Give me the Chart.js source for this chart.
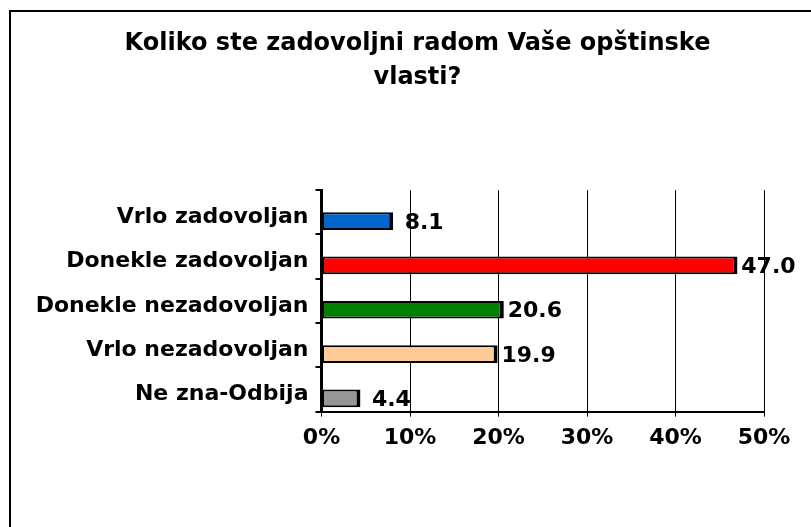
<!DOCTYPE html>
<html>
<head>
<meta charset="utf-8">
<script src="https://cdn.jsdelivr.net/npm/chart.js@4/dist/chart.umd.min.js"></script>
<style>
  html, body { margin: 0; padding: 0; background: #fff; overflow: hidden; }
  canvas { display: block; }
</style>
</head>
<body>
<canvas id="grafik" width="811" height="527"></canvas>
<script>
// podaci sa grafika
const kategorije = ['Vrlo zadovoljan', 'Donekle zadovoljan', 'Donekle nezadovoljan', 'Vrlo nezadovoljan', 'Ne zna-Odbija'];
const procenti = [8.1, 47.0, 20.6, 19.9, 4.4];
const boje = ['#0066CC', '#FF0000', '#008000', '#FFCC99', '#969696'];
const prazno = [null, null, null, null, null]; // prazan red, pomera trake nadole kao u 3D prikazu
const naslov = ['Koliko ste zadovoljni radom Vaše opštinske', 'vlasti?'];
const font = 'DejaVu Sans';

// okvir oko cele slike
const okvir = {
    id: 'okvir',
    beforeDraw(chart) {
        const c = chart.ctx;
        c.save();
        c.strokeStyle = '#000';
        c.lineWidth = 2;
        c.strokeRect(10, 11, 1000, 1000);
        c.restore();
    }
};

// vrednosti desno od traka
const vrednosti = {
    id: 'vrednosti',
    afterDatasetsDraw(chart) {
        const c = chart.ctx;
        const meta = chart.getDatasetMeta(1);
        c.save();
        c.font = 'bold 22px "' + font + '"';
        c.fillStyle = '#000';
        c.textAlign = 'center';
        c.textBaseline = 'middle';
        meta.data.forEach((bar, i) => {
            c.fillText(procenti[i].toFixed(1), bar.x + 31, bar.y + 2);
        });
        c.restore();
    }
};

new Chart(document.getElementById('grafik').getContext('2d'), {
    type: 'bar',
    data: {
        labels: kategorije,
        datasets: [{
            data: prazno
        }, {
            data: procenti,
            backgroundColor: boje,
            borderColor: '#000',
            borderWidth: { top: 2, right: 4, bottom: 2, left: 2 },
            borderSkipped: false
        }]
    },
    options: {
        indexAxis: 'y',
        responsive: false,
        animation: false,
        categoryPercentage: 0.8,
        barPercentage: 1,
        layout: { padding: { top: 0, left: 34, right: 10, bottom: 68 } },
        plugins: {
            legend: { display: false },
            tooltip: { enabled: false },
            title: {
                display: true,
                text: naslov,
                color: '#000',
                font: { family: font, size: 24, weight: 'bold', lineHeight: 1.4 },
                padding: { top: 27, bottom: 96 }
            }
        },
        scales: {
            x: {
                min: 0,
                max: 50,
                afterFit(scale) { scale.paddingRight = 47; },
                ticks: {
                    stepSize: 10,
                    color: '#000',
                    padding: 8,
                    font: { family: font, size: 22, weight: 'bold' },
                    callback: v => v + '%'
                },
                grid: { color: '#000', lineWidth: 1, tickLength: 5 },
                border: { color: '#000', width: 2 }
            },
            y: {
                afterFit(scale) { scale.width = 287.5; },
                ticks: {
                    color: '#000',
                    padding: 7,
                    labelOffset: 5,
                    font: { family: font, size: 22, weight: 'bold' }
                },
                grid: { color: '#000', lineWidth: 2, tickLength: 6, drawOnChartArea: false },
                border: { color: '#000', width: 3 }
            }
        }
    },
    plugins: [okvir, vrednosti]
});
</script>
</body>
</html>
